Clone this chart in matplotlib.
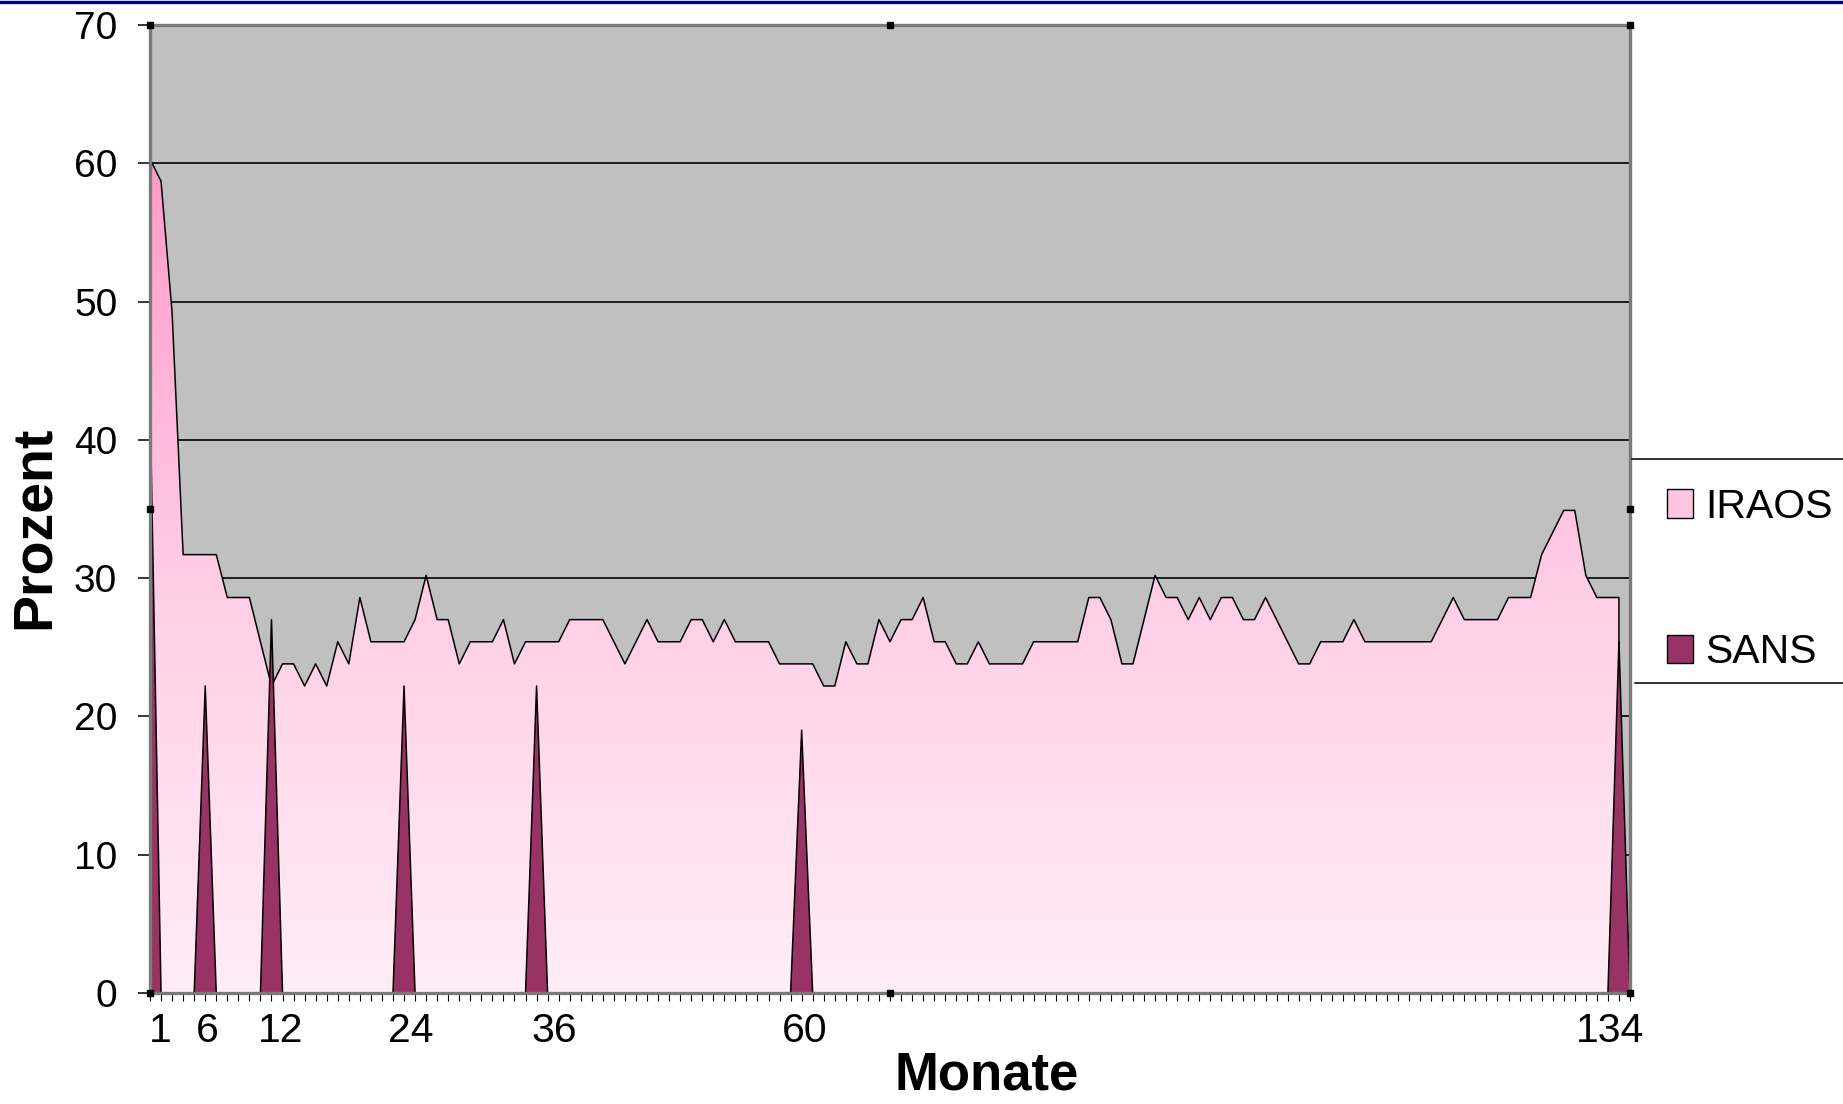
#!/usr/bin/env python3
"""
Area chart: IRAOS vs. SANS (Prozent ueber Monate), Excel-style look.
"""

import numpy as np
import matplotlib

matplotlib.use("Agg")
import matplotlib.pyplot as plt
from matplotlib.colors import LinearSegmentedColormap
from matplotlib.patches import Polygon, Patch
from matplotlib.lines import Line2D

# IRAOS: one value per month (1..134), percent
iraos = [
    60.3, 58.7, 49.2, 31.7, 31.7, 31.7, 31.7, 28.6, 28.6, 28.6,
    25.4, 22.2, 23.8, 23.8, 22.2, 23.8, 22.2, 25.4, 23.8, 28.6,
    25.4, 25.4, 25.4, 25.4, 27.0, 30.2, 27.0, 27.0, 23.8, 25.4,
    25.4, 25.4, 27.0, 23.8, 25.4, 25.4, 25.4, 25.4, 27.0, 27.0,
    27.0, 27.0, 25.4, 23.8, 25.4, 27.0, 25.4, 25.4, 25.4, 27.0,
    27.0, 25.4, 27.0, 25.4, 25.4, 25.4, 25.4, 23.8, 23.8, 23.8,
    23.8, 22.2, 22.2, 25.4, 23.8, 23.8, 27.0, 25.4, 27.0, 27.0,
    28.6, 25.4, 25.4, 23.8, 23.8, 25.4, 23.8, 23.8, 23.8, 23.8,
    25.4, 25.4, 25.4, 25.4, 25.4, 28.6, 28.6, 27.0, 23.8, 23.8,
    27.0, 30.2, 28.6, 28.6, 27.0, 28.6, 27.0, 28.6, 28.6, 27.0,
    27.0, 28.6, 27.0, 25.4, 23.8, 23.8, 25.4, 25.4, 25.4, 27.0,
    25.4, 25.4, 25.4, 25.4, 25.4, 25.4, 25.4, 27.0, 28.6, 27.0,
    27.0, 27.0, 27.0, 28.6, 28.6, 28.6, 31.7, 33.3, 34.9, 34.9,
    30.2, 28.6, 28.6, 28.6,
]

# SANS: only non-zero in a few months
n_months = 135
sans_month = [1, 6, 12, 24, 36, 60, 134]
sans_val = [42.9, 22.2, 27.0, 22.2, 22.2, 19.0, 25.4]

# x labels (placed as on the slide, a little off the category ticks)
month_labels = ["1", "6", "12", "24", "36", "60", "134"]
month_label_pos = [1.9, 6.2, 12.8, 24.6, 37.6, 60.3, 133.2]

y_ticks = [0, 10, 20, 30, 40, 50, 60, 70]
y_grid = [10, 20, 30, 40, 50, 60]

W, H = 1843, 1104


def plot_chart():
    plt.rcParams["font.family"] = ["Liberation Sans", "DejaVu Sans"]
    fig = plt.figure(figsize=(W / 100, H / 100), dpi=100)
    ax = fig.add_axes([150 / W, 1 - 993 / H, 1480 / W, 968 / H])
    ax.set_facecolor("#C0C0C0")

    for g in y_grid:
        ax.axhline(g, color="black", linewidth=1.2, zorder=0.5)

    # IRAOS area with vertical pink gradient
    x_ir = np.arange(1, len(iraos) + 1)
    y_ir = np.array(iraos)
    verts = np.column_stack([np.r_[x_ir, x_ir[-1], x_ir[0]], np.r_[y_ir, 0, 0]])
    clip = Polygon(verts, closed=True, facecolor="none", edgecolor="none")
    ax.add_patch(clip)
    pink = LinearSegmentedColormap.from_list(
        "pinkfade", ["#FFEDF6", "#FFCCE6", "#FF99CC"]
    )
    grad = np.linspace(0, 1, 256).reshape(-1, 1)
    im = ax.imshow(
        grad,
        cmap=pink,
        origin="lower",
        aspect="auto",
        extent=[x_ir[0], x_ir[-1], 0, y_ir.max()],
        interpolation="bilinear",
        zorder=1,
    )
    im.set_clip_path(clip)
    ax.plot(np.r_[x_ir, x_ir[-1]], np.r_[y_ir, 0], color="black", lw=1.1, zorder=2)

    # SANS spikes
    months = np.arange(1, n_months + 1)
    sans = np.zeros(n_months)
    sans[np.array(sans_month) - 1] = sans_val
    ax.fill_between(months, 0, sans, facecolor="#993366", edgecolor="none", zorder=3)
    near = np.convolve((sans > 0).astype(int), [1, 1, 1], mode="same") > 0
    ax.plot(months, np.ma.masked_where(~near, sans), color="black", lw=1.1, zorder=4)

    ax.set_xlim(months[0], months[-1])
    ax.set_ylim(0, 70)

    # hatched (selected) plot-area border with handles
    for sp in ax.spines.values():
        sp.set_color("#7a7a7a")
        sp.set_linewidth(2.4)
        sp.set_linestyle((0, (1, 1)))
        sp.set_zorder(5)
    ax.plot(
        [0, 0.5, 1, 0, 1, 0, 0.5, 1],
        [1, 1, 1, 0.5, 0.5, 0, 0, 0],
        transform=ax.transAxes,
        ls="none",
        marker="s",
        ms=4.5,
        mfc="black",
        mec="black",
        clip_on=False,
        zorder=6,
    )

    ax.set_yticks(y_ticks)
    ax.tick_params(
        axis="y", direction="out", length=8.6, width=1.1, color="black",
        pad=15, labelsize=28,
    )
    ax.set_xticks(month_label_pos)
    ax.set_xticklabels(month_labels)
    ax.set_xticks(months, minor=True)
    ax.tick_params(axis="x", which="major", length=0, pad=14, labelsize=29.5)
    ax.tick_params(
        axis="x", which="minor", direction="out", length=5.8, width=0.8,
        color="black",
    )

    ax.set_xlabel("Monate", fontsize=38, fontweight="bold")
    ax.xaxis.label.set_va("baseline")
    ax.xaxis.set_label_coords(0.5655, (993 - 1090) / 968)
    ax.set_ylabel("Prozent", fontsize=40, fontweight="bold")
    ax.yaxis.label.set_va("baseline")
    ax.yaxis.set_label_coords((49 - 150) / 1480, (993 - 527) / 968)

    # legend (box runs off the right edge, only top/bottom rules visible)
    handles = [
        Patch(facecolor="#FFC4E2", edgecolor="black", lw=1.0),
        Patch(facecolor="#993366", edgecolor="black", lw=1.0),
    ]
    fig.legend(
        handles,
        ["IRAOS", "SANS"],
        loc="center left",
        bbox_to_anchor=(1667 / W, 1 - 579.5 / H),
        frameon=False,
        fontsize=29.5,
        borderpad=0,
        borderaxespad=0,
        handlelength=0.63,
        handleheight=0.68,
        handletextpad=0.3,
        labelspacing=2.62,
    )
    fig.add_artist(Line2D([1632 / W, 1], [1 - 459 / H] * 2, color="black", lw=1.1))
    fig.add_artist(Line2D([1635 / W, 1], [1 - 683 / H] * 2, color="black", lw=1.1))

    # slide header rule
    fig.add_artist(Line2D([0, 1], [1 - 1.5 / H] * 2, color="#000080", lw=2.4))

    fig.savefig("out.png", dpi=100)


if __name__ == "__main__":
    plot_chart()
